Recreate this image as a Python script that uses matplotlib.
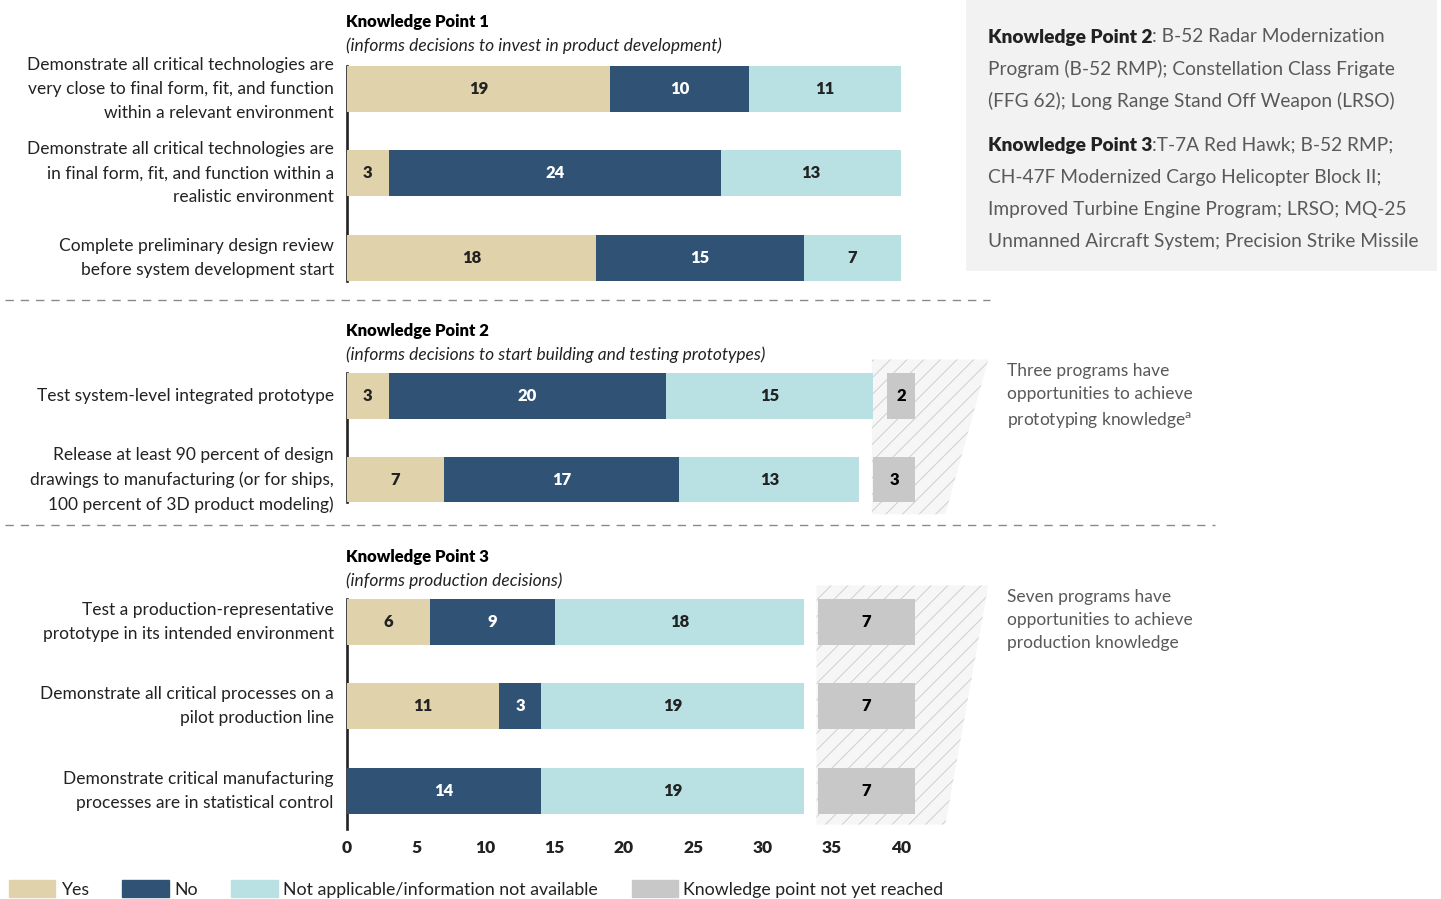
import matplotlib
matplotlib.use("Agg")
import matplotlib.pyplot as plt
from matplotlib.patches import Rectangle, Polygon, Patch
from matplotlib.lines import Line2D

plt.rcParams['font.family'] = ['Lato', 'DejaVu Sans']
plt.rcParams['mathtext.fontset'] = 'custom'
plt.rcParams['mathtext.rm'] = 'Lato'
plt.rcParams['hatch.linewidth'] = 0.7

# data
kp1_labels = ["Demonstrate all critical technologies are\nvery close to final form, fit, and function\nwithin a relevant environment",
              "Demonstrate all critical technologies are\nin final form, fit, and function within a\nrealistic environment",
              "Complete preliminary design review\nbefore system development start"]
kp1_yes = [19, 3, 18]
kp1_no = [10, 24, 15]
kp1_na = [11, 13, 7]
kp1_notyet = [0, 0, 0]

kp2_labels = ["Test system-level integrated prototype",
              "Release at least 90 percent of design\ndrawings to manufacturing (or for ships,\n100 percent of 3D product modeling)"]
kp2_yes = [3, 7]
kp2_no = [20, 17]
kp2_na = [15, 13]
kp2_notyet = [2, 3]

kp3_labels = ["Test a production-representative\nprototype in its intended environment",
              "Demonstrate all critical processes on a\npilot production line",
              "Demonstrate critical manufacturing\nprocesses are in statistical control"]
kp3_yes = [6, 11, 0]
kp3_no = [9, 3, 14]
kp3_na = [18, 19, 19]
kp3_notyet = [7, 7, 7]

titles = ["Knowledge Point 1", "Knowledge Point 2", "Knowledge Point 3"]
subtitles = ["(informs decisions to invest in product development)",
             "(informs decisions to start building and testing prototypes)",
             "(informs production decisions)"]
side_notes = [None,
              "Three programs have\nopportunities to achieve\nprototyping knowledge$^{\\mathrm{a}}$",
              "Seven programs have\nopportunities to achieve\nproduction knowledge"]
x_ticks = [0, 5, 10, 15, 20, 25, 30, 35, 40]

c_yes = '#e0d3ab'
c_no = '#2f5275'
c_na = '#b9e1e3'
c_notyet = '#c8c8c8'
txt = '#222222'
grey_txt = '#595959'

W, H = 1441, 899
fig = plt.figure(figsize=(W / 100, H / 100), dpi=100)

def fx(px):
    return px / W

def fy(py):
    return 1 - py / H

ROW = 84.3       # px between rows
HALF = 23        # px from row centre to bar edge
X0 = 347         # px of x=0
XS = 13.85       # px per unit
XMAX = 47

# (first row centre px, bottom px of axes)
layout = [(89, 281), (396, 502), (622, 829)]
sections = [
    (kp1_labels, kp1_yes, kp1_no, kp1_na, kp1_notyet),
    (kp2_labels, kp2_yes, kp2_no, kp2_na, kp2_notyet),
    (kp3_labels, kp3_yes, kp3_no, kp3_na, kp3_notyet),
]

for i, (labels, yes, no, na, notyet) in enumerate(sections):
    first, bottom = layout[i]
    top = first - HALF
    ax = fig.add_axes([fx(X0), fy(bottom), fx(XMAX * XS), (bottom - top) / H])
    ax.set_xlim(0, XMAX)
    ax.set_ylim(-HALF / ROW + (bottom - top) / ROW, -HALF / ROW)
    rows = list(range(len(labels)))
    bh = 2 * HALF / ROW

    left = [0] * len(rows)
    for vals, col, tc in [(yes, c_yes, txt), (no, c_no, 'white'), (na, c_na, txt)]:
        bars = ax.barh(rows, vals, left=left, height=bh, color=col, zorder=3)
        ax.bar_label(bars, labels=[str(v) if v > 0 else '' for v in vals],
                     label_type='center', color=tc, fontweight='heavy', fontsize=12)
        left = [a + b for a, b in zip(left, vals)]

    if sum(notyet) > 0:
        starts = [l + 1 for l in left]
        hx = min(starts) - 0.1
        yt = -HALF / ROW - 0.16
        yb = rows[-1] + HALF / ROW + 0.13
        poly = Polygon([(hx, yt), (46.3, yt), (43.2, yb), (hx, yb)], closed=True,
                       facecolor='#f6f6f6', edgecolor='#cfcfcf', hatch='//',
                       linewidth=0, clip_on=False, zorder=1)
        ax.add_patch(poly)
        bars = ax.barh(rows, notyet, left=starts, height=bh, color=c_notyet, zorder=3)
        ax.bar_label(bars, labels=[str(v) for v in notyet], label_type='center',
                     color='black', fontweight='heavy', fontsize=12)

    for r, lab in zip(rows, labels):
        ax.annotate(lab, xy=(0, r), xytext=(-9.5, 0), textcoords='offset points',
                    ha='right', va='center', fontsize=12.5, color=txt, linespacing=1.62)

    for s in ['top', 'right', 'bottom']:
        ax.spines[s].set_visible(False)
    ax.spines['left'].set_linewidth(1.9)
    ax.spines['left'].set_color(txt)
    ax.set_yticks([])
    ax.set_facecolor('none')
    if i == 2:
        ax.set_xticks(x_ticks)
        ax.set_xticklabels([str(t) for t in x_ticks], fontweight='heavy', fontsize=12.5, color=txt)
        ax.tick_params(axis='x', length=0, pad=8)
    else:
        ax.set_xticks([])

    ttl_y = top - 44 if i == 0 else top - 42
    fig.text(fx(346), fy(ttl_y), titles[i], fontweight='heavy', fontsize=12, color='black', va='center')
    fig.text(fx(346), fy(ttl_y + 24), subtitles[i], style='italic', fontsize=12.5, color=txt, va='center')
    if side_notes[i]:
        fig.text(fx(1007), fy(top - 10), side_notes[i], fontsize=12.5, color=grey_txt,
                 va='top', linespacing=1.55)

# dashed separators
fig.add_artist(Line2D([fx(5), fx(990)], [fy(300), fy(300)], color='#8a8a8a', lw=1, dashes=(6, 5)))
fig.add_artist(Line2D([fx(5), fx(1215)], [fy(525), fy(525)], color='#8a8a8a', lw=1, dashes=(6, 5)))

# grey box with program names
fig.add_artist(Rectangle((fx(966), fy(271)), fx(471), 271 / H, facecolor='#f2f2f2', edgecolor='none', zorder=0))
box_lines = [
    ("Knowledge Point 2", ": B-52 Radar Modernization", 37),
    (None, "Program (B-52 RMP); Constellation Class Frigate", 69),
    (None, "(FFG 62); Long Range Stand Off Weapon (LRSO)", 101),
    ("Knowledge Point 3", ":T-7A Red Hawk; B-52 RMP;", 145),
    (None, "CH-47F Modernized Cargo Helicopter Block II;", 177),
    (None, "Improved Turbine Engine Program; LRSO; MQ-25", 209),
    (None, "Unmanned Aircraft System; Precision Strike Missile", 241),
]
fig.canvas.draw()
rend = fig.canvas.get_renderer()
for bold, rest, py in box_lines:
    x = 988
    if bold:
        t = fig.text(fx(x), fy(py), bold, fontweight='heavy', fontsize=13.8, color=txt, va='center')
        x += t.get_window_extent(rend).width
    fig.text(fx(x), fy(py), rest, fontsize=13.8, color=grey_txt, va='center')

# legend
handles = [Patch(color=c_yes), Patch(color=c_no), Patch(color=c_na), Patch(color=c_notyet)]
names = ["Yes", "No", "Not applicable/information not available", "Knowledge point not yet reached"]
fig.legend(handles, names, loc='center left', bbox_to_anchor=(fx(9), fy(889)), ncol=4, frameon=False,
           fontsize=12.8, handlelength=2.6, handleheight=1.05, handletextpad=0.3,
           columnspacing=1.9, borderaxespad=0, borderpad=0, labelcolor=txt)

fig.savefig('out.png', dpi=100)
